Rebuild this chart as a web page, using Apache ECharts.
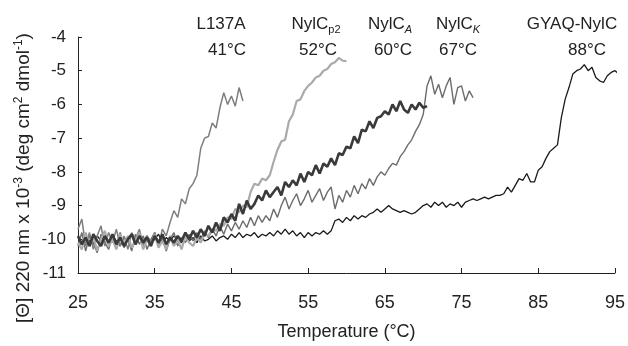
<!DOCTYPE html>
<html>
<head>
<meta charset="utf-8">
<script src="https://cdn.jsdelivr.net/npm/echarts@6/dist/echarts.min.js"></script>
<style>
  html, body { margin: 0; padding: 0; background: #fff; }
  #chart { width: 628px; height: 346px; }
</style>
</head>
<body>
<div id="chart"></div>
<script>
// scan step of the melting curves (°C)
var step = 0.5;

var xTicks = [25, 35, 45, 55, 65, 75, 85, 95];
var yTicks = [-11, -10, -9, -8, -7, -6, -5, -4];

// L137A, 25 -> 46.5
var l137aStart = 25;
var l137a = [
  -9.7, -9.4, -10.2, -9.8, -10.3, -9.9, -9.6, -10.2, -9.8, -10.1,
  -9.7, -10.2, -9.9, -10.3, -9.8, -10.0, -9.7, -10.2, -9.9, -10.1,
  -9.8, -10.2, -9.7, -9.9, -9.5, -9.15, -9.35, -8.8, -8.95, -8.5,
  -8.35, -8.1, -7.3, -7.0, -6.95, -6.55, -6.7, -6.1, -5.65, -6.0,
  -5.75, -6.05, -5.5, -5.9
];

// NylCp2, 25 -> 60
var nylcP2Start = 25;
var nylcP2 = [
  -10.1, -10.3, -9.8, -10.2, -9.9, -10.35, -10.0, -9.75, -10.2, -10.0,
  -10.3, -9.85, -10.15, -9.9, -10.25, -10.05, -9.8, -10.3, -10.0, -10.2,
  -9.85, -10.25, -10.05, -10.3, -9.9, -10.2, -10.0, -10.3, -9.9, -10.1,
  -10.2, -9.95, -10.1, -9.85, -9.9, -9.7, -9.75, -9.55, -9.6, -9.35,
  -9.4, -9.1, -9.2, -9.0, -9.05, -8.6, -8.35, -8.4, -8.2, -8.25,
  -8.1, -7.7, -7.35, -7.1, -7.05, -6.5, -6.3, -5.9, -5.85, -5.6,
  -5.45, -5.35, -5.2, -5.15, -5.0, -4.95, -4.8, -4.75, -4.62, -4.7,
  -4.72
];

// NylCA, 25 -> 70.5
var nylcAStart = 25;
var nylcA = [
  -9.9, -10.15, -9.95, -10.2, -9.85, -10.05, -10.2, -9.9, -10.1, -9.85,
  -10.15, -9.95, -10.2, -10.0, -9.85, -10.15, -9.9, -10.1, -9.95, -10.2,
  -9.9, -10.1, -9.85, -10.15, -9.95, -10.1, -9.9, -10.05, -9.8, -10.0,
  -9.75, -9.95, -9.7, -9.9, -9.6, -9.8, -9.5, -9.75, -9.35, -9.5,
  -9.25, -9.45, -8.95, -9.25, -8.85, -9.1, -8.95, -8.7, -8.85, -8.55,
  -8.75, -8.6, -8.45, -8.7, -8.3, -8.45, -8.25, -8.4, -8.05, -8.3,
  -8.0, -8.1, -7.8, -8.05, -7.75, -7.85, -7.6, -7.8, -7.45, -7.5,
  -7.25, -7.3, -6.95, -7.15, -6.75, -6.8, -6.5, -6.7, -6.4, -6.35,
  -6.2, -6.3, -6.0, -6.2, -5.9, -6.15, -6.25, -6.0, -6.15, -5.95,
  -6.1, -6.05
];

// NylCK, 25 -> 76.5
var nylcKStart = 25;
var nylcK = [
  -10.2, -9.8, -10.35, -9.9, -10.1, -10.4, -9.85, -10.1, -10.3, -9.9,
  -10.15, -9.8, -10.25, -10.0, -10.35, -9.85, -10.15, -9.9, -10.3, -10.0,
  -9.8, -10.15, -9.95, -10.35, -10.0, -9.8, -10.2, -9.95, -10.1, -9.85,
  -10.05, -9.8, -10.0, -9.75, -9.95, -9.7, -9.9, -9.6, -9.85, -9.55,
  -9.75, -9.5, -9.7, -9.45, -9.65, -9.35, -9.6, -9.3, -9.5, -9.3,
  -9.45, -9.1, -9.35, -9.0, -8.75, -9.1, -8.85, -8.65, -9.0, -8.8,
  -8.55, -8.9, -8.7, -8.5, -8.85, -8.6, -8.45, -9.1, -8.7, -8.9,
  -8.55, -8.75, -8.4, -8.65, -8.35, -8.5, -8.2, -8.4, -8.15, -8.0,
  -8.1, -7.9, -7.75, -7.8, -7.55, -7.4, -7.2, -7.05, -6.8, -6.6,
  -6.3, -5.45, -5.15, -5.7, -5.4, -5.8, -5.45, -5.2, -6.0, -5.5,
  -5.45, -5.9, -5.6, -5.8
];

// GYAQ-NylC, 25 -> 96.5
var gyaqStart = 25;
var gyaq = [
  -9.95, -10.1, -9.9, -10.05, -10.15, -9.9, -10.05, -9.95, -10.1, -9.9,
  -10.05, -10.2, -9.95, -10.05, -9.85, -10.1, -9.95, -10.05, -9.9, -10.1,
  -10.0, -9.85, -10.1, -9.95, -10.05, -9.9, -10.0, -10.1, -9.9, -10.05,
  -9.95, -10.1, -9.9, -10.05, -10.0, -9.9, -10.05, -9.95, -9.9, -10.0,
  -9.85, -9.95, -9.8, -9.95, -9.85, -9.9, -9.8, -9.95, -9.85, -9.9,
  -9.8, -9.9, -9.75, -9.85, -9.7, -9.85, -9.75, -9.9, -9.8, -9.95,
  -9.8, -9.9, -9.8, -9.85, -9.75, -9.85, -9.75, -9.45, -9.4, -9.5,
  -9.35, -9.45, -9.3, -9.4, -9.3, -9.35, -9.25, -9.2, -9.1, -9.2,
  -9.1, -9.0, -9.1, -9.15, -9.2, -9.15, -9.2, -9.25, -9.2, -9.1,
  -9.0, -8.95, -9.05, -8.9, -9.0, -8.9, -9.05, -8.95, -9.0, -8.9,
  -9.05, -8.9, -8.85, -8.8, -8.85, -8.8, -8.75, -8.8, -8.75, -8.7,
  -8.7, -8.65, -8.45, -8.6, -8.4, -8.2, -8.25, -8.05, -8.3, -8.3,
  -7.95, -7.85, -7.6, -7.4, -7.3, -7.2, -6.4, -5.85, -5.5, -5.1,
  -5.0, -4.95, -4.82, -5.0, -4.9, -5.2, -5.3, -5.35, -5.15, -5.05,
  -5.0, -5.1, -5.25, -5.35
];

function pairs(start, values) {
  return values.map(function (v, i) { return [start + i * step, v]; });
}

function curve(name, start, values, color, width) {
  return {
    name: name,
    type: 'line',
    data: pairs(start, values),
    showSymbol: false,
    clip: false,
    lineStyle: { color: color, width: width },
    z: 2
  };
}

var font = '"Liberation Sans", Arial, sans-serif';
var chart = echarts.init(document.getElementById('chart'));

var topRich = {
  a: { fontSize: 17, fontFamily: font, fill: '#222', lineHeight: 22 },
  s: { fontSize: 11, fontFamily: font, fill: '#222', lineHeight: 11, verticalAlign: 'bottom' },
  si: { fontSize: 11, fontFamily: font, fontStyle: 'italic', fill: '#222', lineHeight: 11, verticalAlign: 'bottom' }
};

function label(x, y, text) {
  return {
    type: 'text', x: x, y: y,
    style: { text: text, rich: topRich, align: 'center', verticalAlign: 'middle' }
  };
}

var option = {
  animation: false,
  backgroundColor: '#fff',
  grid: { left: 78, right: 13, top: 37, bottom: 69 },
  xAxis: {
    type: 'value', min: 25, max: 95, interval: 10,
    axisLine: { lineStyle: { color: '#222', width: 1 } },
    axisTick: { inside: true, length: 5, lineStyle: { color: '#222' } },
    splitLine: { show: false },
    axisLabel: { color: '#222', fontSize: 18, fontFamily: font, margin: 21 },
    name: 'Temperature (°C)', nameLocation: 'middle', nameGap: 50,
    nameTextStyle: { color: '#222', fontSize: 18, fontFamily: font }
  },
  yAxis: {
    type: 'value', min: -11, max: -4, interval: 1,
    axisLine: { show: true, lineStyle: { color: '#222', width: 1 } },
    axisTick: { show: true, inside: true, length: 4, lineStyle: { color: '#222' } },
    splitLine: { show: false },
    axisLabel: { color: '#222', fontSize: 17, fontFamily: font, margin: 12 }
  },
  graphic: [
    {
      type: 'text', x: 24, y: 178, rotation: Math.PI / 2,
      style: {
        text: '{a|[Θ] 220 nm x 10}{p|-3}{a| (deg cm}{p|2}{a| dmol}{p|-1}{a|)}',
        align: 'center', verticalAlign: 'middle',
        rich: {
          a: { fontSize: 19, fontFamily: font, fill: '#222', lineHeight: 23 },
          p: { fontSize: 12, fontFamily: font, fill: '#222', lineHeight: 12, verticalAlign: 'top' }
        }
      }
    },
    label(221, 24, '{a|L137A}'),
    label(316, 24, '{a|NylC}{s|p2}'),
    label(390, 24, '{a|NylC}{si|A}'),
    label(458, 24, '{a|NylC}{si|K}'),
    label(572, 24, '{a|GYAQ-NylC}'),
    label(227, 50, '{a|41°C}'),
    label(318, 50, '{a|52°C}'),
    label(393, 50, '{a|60°C}'),
    label(458, 50, '{a|67°C}'),
    label(587, 50, '{a|88°C}')
  ],
  series: [
    curve('GYAQ-NylC', gyaqStart, gyaq, '#1a1a1a', 1.3),
    curve('NylCK', nylcKStart, nylcK, '#6c6c6c', 1.4),
    curve('L137A', l137aStart, l137a, '#7e7e7e', 1.5),
    curve('NylCp2', nylcP2Start, nylcP2, '#aaaaaa', 2.2),
    curve('NylCA', nylcAStart, nylcA, '#3a3a3a', 2.6)
  ]
};

chart.setOption(option);
</script>
</body>
</html>
